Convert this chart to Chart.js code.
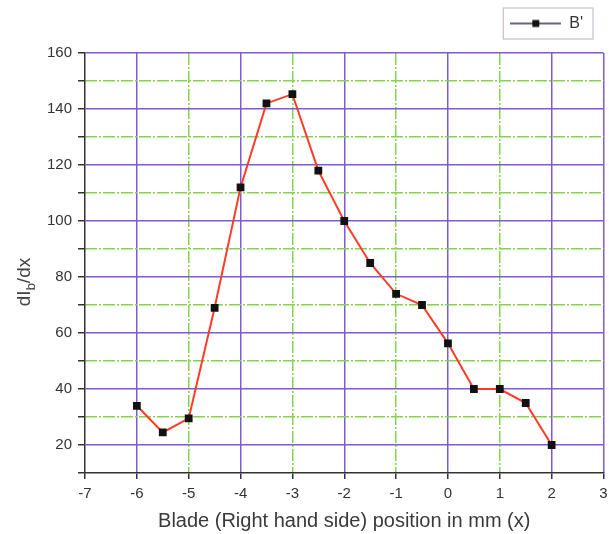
<!DOCTYPE html>
<html>
<head>
<meta charset="utf-8">
<script src="https://cdn.jsdelivr.net/npm/chart.js@4/dist/chart.umd.min.js"></script>
<style>
  html, body { margin: 0; padding: 0; background: #ffffff; }
  #wrap { width: 609px; height: 534px; }
</style>
</head>
<body>
<div id="wrap"><canvas id="c" width="609" height="534"></canvas></div>
<script>
// ---- data ----
const xPositions = [-6, -5.5, -5, -4.5, -4, -3.5, -3, -2.5, -2, -1.5, -1, -0.5, 0, 0.5, 1, 1.5, 2];
const dIbdx      = [34, 24.5, 29.5, 69, 112, 142, 145.3, 118, 100, 85, 74, 70, 56.3, 40, 40, 35, 20];
const seriesName = "B'";
const xTickValues = [-7, -6, -5, -4, -3, -2, -1, 0, 1, 2, 3];
const yTickLabels = [20, 40, 60, 80, 100, 120, 140, 160];
const xTitle = 'Blade (Right hand side) position in mm (x)';

const FONT = '"Liberation Sans", Arial, sans-serif';
const MAJOR = '#7f5ad8';
const MINOR = '#84d44e';
const AXIS = '#333333';

// legend symbol: line with square marker
const legendImg = document.createElement('canvas');
legendImg.width = 51; legendImg.height = 12;
(function () {
  const g = legendImg.getContext('2d');
  g.strokeStyle = '#3a3048'; g.lineWidth = 1.5;
  g.beginPath(); g.moveTo(0, 6); g.lineTo(51, 6); g.stroke();
  g.fillStyle = '#111'; g.fillRect(22, 2.5, 7, 7);
})();

const points = xPositions.map((x, i) => ({ x: x, y: dIbdx[i] }));

const yTitlePlugin = {
  id: 'yTitle',
  afterDraw(chart) {
    const ctx = chart.ctx;
    ctx.save();
    ctx.translate(25, 282);
    ctx.rotate(-Math.PI / 2);
    ctx.fillStyle = '#444';
    ctx.textBaseline = 'middle';
    const big = '19px ' + FONT, small = '13px ' + FONT;
    ctx.font = big; const w1 = ctx.measureText('dI').width; const w3 = ctx.measureText('/dx').width;
    ctx.font = small; const w2 = ctx.measureText('b').width;
    let x = -(w1 + w2 + w3) / 2;
    ctx.font = big; ctx.textAlign = 'left';
    ctx.fillText('dI', x, 0); x += w1;
    ctx.font = small; ctx.fillText('b', x, 6); x += w2;
    ctx.font = big; ctx.fillText('/dx', x, 0);
    ctx.restore();
  }
};

const legendFramePlugin = {
  id: 'legendFrame',
  beforeDraw(chart) {
    const lg = chart.legend;
    if (lg) { lg.right = chart.chartArea.right - 5; }
  },
  afterDraw(chart) {
    const lg = chart.legend;
    if (!lg || !lg.lineWidths) return;
    const pad = lg.options.labels.padding;
    const startX = lg.right - lg.lineWidths[0];
    const itemW = lg.lineWidths[0] - pad;
    const top = lg.top + pad;
    const ctx = chart.ctx;
    ctx.save();
    ctx.strokeStyle = '#c8c0c8';
    ctx.lineWidth = 1.2;
    ctx.strokeRect(startX - 7, top - 7.5, itemW + 17, 16 + 15);
    ctx.restore();
  }
};

new Chart(document.getElementById('c'), {
  type: 'line',
  data: {
    datasets: [{
      label: seriesName,
      data: points,
      borderColor: '#ff3b28',
      borderWidth: 2,
      backgroundColor: '#111',
      pointStyle: 'rect',
      pointRadius: 5.5,
      pointBackgroundColor: '#111',
      pointBorderColor: '#111',
      pointBorderWidth: 0,
      tension: 0,
      fill: false
    }]
  },
  options: {
    responsive: false,
    animation: false,
    events: [],
    layout: { padding: { left: 0, right: 5, top: 0, bottom: 0 } },
    plugins: {
      tooltip: { enabled: false },
      legend: {
        display: true,
        position: 'top',
        align: 'end',
        labels: {
          usePointStyle: true,
          pointStyle: legendImg,
          pointStyleWidth: 51,
          boxHeight: 16,
          padding: 15.5,
          color: '#333',
          font: { family: FONT, size: 16 }
        }
      }
    },
    scales: {
      x: {
        type: 'linear',
        position: 'bottom',
        min: -7, max: 3,
        afterBuildTicks: s => { s.ticks = xTickValues.map(v => ({ value: v })); },
        afterFit: s => { s.height = 61; s.paddingRight = 0; s.paddingLeft = 0; },
        ticks: { color: AXIS, font: { family: FONT, size: 15 }, padding: 6, maxRotation: 0, autoSkip: false,
                 callback: v => String(v) },
        grid: {
          color: c => (c.tick && (Math.abs(c.tick.value) % 2 === 0 || c.tick.value === 3)) ? MAJOR : 'rgba(0,0,0,0)',
          lineWidth: 1.5,
          tickColor: AXIS, tickLength: 6, tickWidth: 1.5
        },
        border: { display: true, color: AXIS, width: 1.5 },
        title: { display: true, text: xTitle, color: '#3a3a3a', font: { family: FONT, size: 20 }, padding: { top: 0, bottom: 1 } }
      },
      xMinor: {
        type: 'linear',
        position: 'bottom',
        min: -7, max: 3,
        afterBuildTicks: s => { s.ticks = xTickValues.map(v => ({ value: v })); },
        afterFit: s => { s.height = 0; s.paddingRight = 0; s.paddingLeft = 0; },
        ticks: { display: false },
        grid: {
          color: c => (c.tick && Math.abs(c.tick.value) % 2 === 1 && c.tick.value !== 3 && c.tick.value !== -7) ? MINOR : 'rgba(0,0,0,0)',
          lineWidth: 1.5, drawTicks: false
        },
        border: { display: false, dash: [12, 2, 2, 2] }
      },
      xSpacer: {
        type: 'linear', position: 'top', min: 0, max: 1,
        afterFit: s => { s.height = 11.5; s.paddingRight = 0; s.paddingLeft = 0; },
        ticks: { display: false }, grid: { display: false }, border: { display: false }
      },
      y: {
        type: 'linear',
        position: 'left',
        min: 10, max: 160,
        afterBuildTicks: s => {
          const t = []; for (let v = 10; v <= 160; v += 10) t.push({ value: v }); s.ticks = t;
        },
        afterFit: s => { s.width = 85; },
        ticks: { color: AXIS, font: { family: FONT, size: 15 }, padding: 6, autoSkip: false,
                 callback: v => (yTickLabels.includes(v) ? String(v) : '') },
        grid: {
          color: c => (c.tick && c.tick.value % 20 === 0) ? MAJOR : 'rgba(0,0,0,0)',
          lineWidth: 1.5,
          tickColor: AXIS, tickLength: 7, tickWidth: 1.5
        },
        border: { display: true, color: AXIS, width: 1.5 }
      },
      yMinor: {
        type: 'linear',
        position: 'left',
        min: 10, max: 160,
        afterBuildTicks: s => {
          const t = []; for (let v = 10; v <= 160; v += 10) t.push({ value: v }); s.ticks = t;
        },
        afterFit: s => { s.width = 0; },
        ticks: { display: false },
        grid: {
          color: c => (c.tick && c.tick.value % 20 === 10 && c.tick.value !== 10) ? MINOR : 'rgba(0,0,0,0)',
          lineWidth: 1.5, drawTicks: false
        },
        border: { display: false, dash: [12, 2, 2, 2] }
      }
    }
  },
  plugins: [yTitlePlugin, legendFramePlugin]
});
</script>
</body>
</html>
